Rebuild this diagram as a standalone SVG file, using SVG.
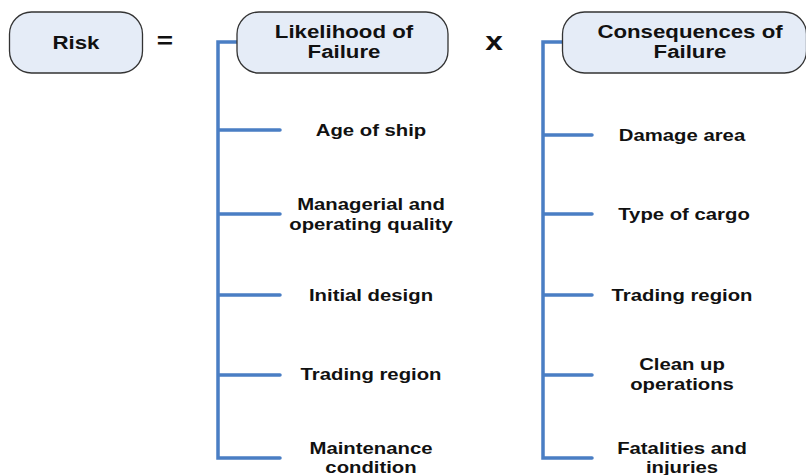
<svg xmlns="http://www.w3.org/2000/svg" width="806" height="475" viewBox="0 0 806 475">
<style>
.box{fill:#E5ECF7;stroke:#333333;stroke-width:1.3}
.t{font-family:"Liberation Sans",Arial,sans-serif;font-weight:bold;fill:#111111;text-anchor:middle}
.h{font-size:17.5px}
.s{font-size:16px}
.conn{fill:none;stroke:#4A7EC4;stroke-width:3.5;stroke-linecap:round;stroke-linejoin:miter}
</style>
<rect width="806" height="475" fill="#ffffff"/>
<g id="connectors">
<path class="conn" d="M237 42 H218 V458 H280 M218 130 H280 M218 214 H280 M218 295 H280 M218 375 H280"/>
<path class="conn" d="M562 42 H543 V458 H592 M543 135 H592 M543 214 H592 M543 295 H592 M543 375 H592"/>
</g>
<g id="risk">
<rect class="box" x="9.5" y="12" width="133" height="61" rx="22"/>
<text class="t h" transform="matrix(1.27 0 0 1 76 49)">Risk</text>
</g>
<g id="equals">
<text class="t" style="font-size:22px" transform="matrix(1.27 0 0 1 165 48)">=</text>
</g>
<g id="likelihood">
<rect class="box" x="237" y="12" width="211" height="61" rx="22"/>
<text class="t h" transform="matrix(1.27 0 0 1 344 38)"><tspan x="0" y="0">Likelihood of</tspan><tspan x="0" y="20">Failure</tspan></text>
</g>
<g id="times">
<text class="t" style="font-size:25px" transform="matrix(1.27 0 0 1 494 50)">x</text>
</g>
<g id="consequences">
<rect class="box" x="562.5" y="12" width="244" height="61" rx="22"/>
<text class="t h" transform="matrix(1.27 0 0 1 690 38)"><tspan x="0" y="0">Consequences of</tspan><tspan x="0" y="20">Failure</tspan></text>
</g>
<g id="age"><text class="t s" transform="matrix(1.27 0 0 1 371 136)">Age of ship</text></g>
<g id="managerial"><text class="t s" transform="matrix(1.27 0 0 1 371 210)"><tspan x="0" y="0">Managerial and</tspan><tspan x="0" y="20">operating quality</tspan></text></g>
<g id="initial"><text class="t s" transform="matrix(1.27 0 0 1 371 301)">Initial design</text></g>
<g id="trading-left"><text class="t s" transform="matrix(1.27 0 0 1 371 380)">Trading region</text></g>
<g id="maintenance"><text class="t s" transform="matrix(1.27 0 0 1 371 454)"><tspan x="0" y="0">Maintenance</tspan><tspan x="0" y="19.5">condition</tspan></text></g>
<g id="damage"><text class="t s" transform="matrix(1.27 0 0 1 682 141)">Damage area</text></g>
<g id="cargo"><text class="t s" transform="matrix(1.27 0 0 1 684 220)">Type of cargo</text></g>
<g id="trading-right"><text class="t s" transform="matrix(1.27 0 0 1 682 301)">Trading region</text></g>
<g id="cleanup"><text class="t s" transform="matrix(1.27 0 0 1 682 370)"><tspan x="0" y="0">Clean up</tspan><tspan x="0" y="20">operations</tspan></text></g>
<g id="fatalities"><text class="t s" transform="matrix(1.27 0 0 1 682 454)"><tspan x="0" y="0">Fatalities and</tspan><tspan x="0" y="19.5">injuries</tspan></text></g>
</svg>
